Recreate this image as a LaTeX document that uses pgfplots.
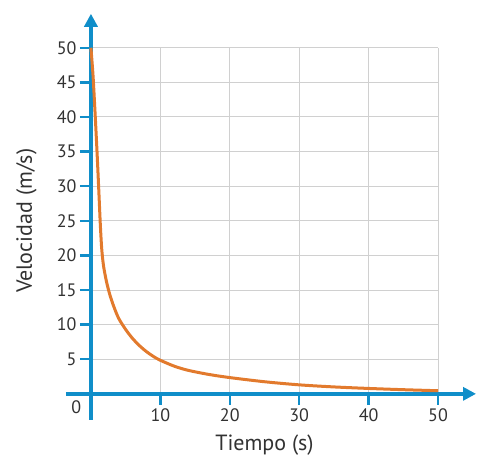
\documentclass[border=0pt]{standalone}
\usepackage{fontspec}
\setmainfont{PT Sans}
\usepackage{pgfplots}
\pgfplotsset{compat=1.18}
\usetikzlibrary{arrows.meta}
\definecolor{axblue}{RGB}{16,142,201}
\definecolor{curve}{RGB}{226,122,45}
\definecolor{gridgray}{RGB}{208,208,208}
\definecolor{txt}{RGB}{50,50,50}

\begin{document}
\begin{tikzpicture}
\begin{axis}[
  x=6.94pt, y=6.92pt,
  xmin=0, xmax=50, ymin=0, ymax=50,
  axis lines=middle,
  axis line style={axblue, line width=3.5pt},
  x axis line style={-{Triangle[length=13pt,width=13pt]}, shorten >=-38pt, shorten <=-25pt},
  y axis line style={-{Triangle[length=13pt,width=13pt]}, shorten >=-34pt, shorten <=-26pt},
  clip=false,
  xtick={10,20,...,50}, ytick={5,10,...,50},
  tick align=outside,
  major tick length=11pt,
  tick style={axblue, line width=2.5pt},
  grid=major,
  grid style={gridgray, line width=1pt},
  /pgf/number format/assume math mode=true,
  tick label style={font=\fontsize{18}{18}\selectfont, text=txt},
  xlabel={Tiempo (s)}, ylabel={Velocidad (m/s)},
  every axis x label/.style={at={(axis cs:25,-7.4)}, anchor=center, font=\fontsize{22}{22}\selectfont, text=txt},
  every axis y label/.style={at={(axis cs:-9.3,25)}, anchor=center, rotate=90, font=\fontsize{22}{22}\selectfont, text=txt},
]
\path (axis cs:-13.1,-8.96) rectangle (axis cs:57.2,56.9);
\addplot[curve, line width=3pt, smooth, tension=0.5] coordinates {
  (0,50) (0.3,46) (0.6,40.5) (0.9,34.5) (1.15,29) (1.35,24.5) (1.55,21)
  (1.8,18.6) (2.2,16.4) (2.7,14.4) (3.3,12.6) (4,10.9) (5,9.3)
  (6,8.0) (7,6.95) (8,6.1) (9,5.4) (10,4.85) (12,4.0) (14,3.4)
  (17,2.8) (20,2.35) (25,1.75) (30,1.3) (35,1.0) (40,0.78) (45,0.6) (50,0.45)
};
\node[font=\fontsize{18}{18}\selectfont, text=txt] at (axis cs:-2.1,-2.0) {0};
\end{axis}
\end{tikzpicture}
\end{document}
